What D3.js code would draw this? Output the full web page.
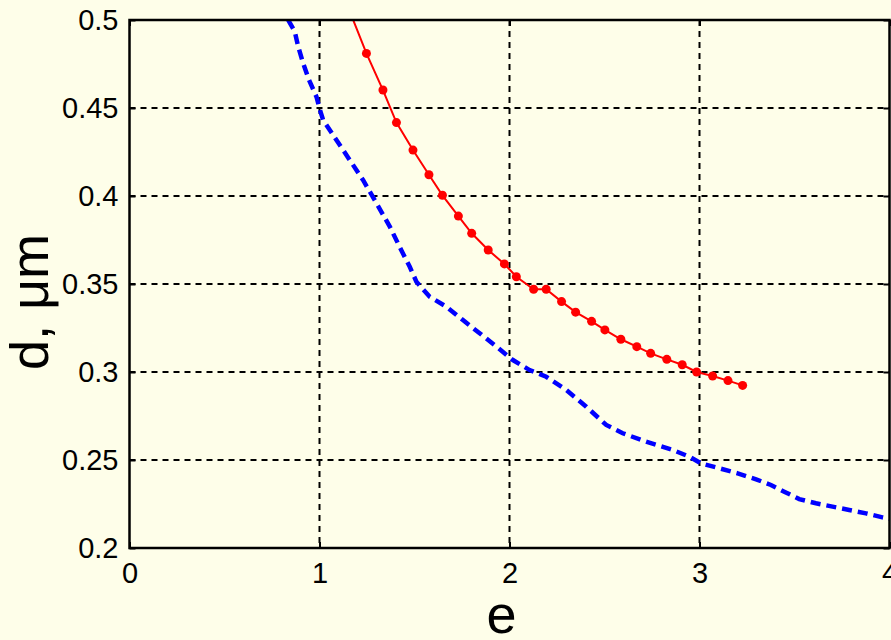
<!DOCTYPE html>
<html>
<head>
<meta charset="utf-8">
<script src="https://d3js.org/d3.v7.min.js"></script>
<style>
  html, body { margin: 0; padding: 0; background: #fefee9; }
  svg { display: block; }
  .tick text { font-family: "Liberation Sans", Arial, sans-serif; font-size: 29px; fill: #000; }
  .label { font-family: "Liberation Sans", Arial, sans-serif; font-size: 54px; fill: #000; }
</style>
</head>
<body>
<div id="chart"></div>
<script>
// blue dashed curve
var blueE = [0.835, 0.870, 0.888, 0.914, 0.945, 0.984, 1.0, 1.019, 1.089, 1.159, 1.229, 1.300,
  1.370, 1.430, 1.475, 1.510, 1.580, 1.668, 1.755, 1.843, 1.931, 2.018, 2.106, 2.193, 2.299,
  2.404, 2.509, 2.596, 2.719, 2.859, 2.947, 3.008, 3.105, 3.201, 3.298, 3.376, 3.446, 3.525,
  3.613, 3.700, 3.788, 3.876, 3.963, 4.0];
var blueD = [0.5, 0.4934, 0.4848, 0.4754, 0.4659, 0.4564, 0.4498, 0.4432, 0.4318, 0.4205, 0.4091, 0.3959,
  0.3826, 0.3693, 0.3598, 0.3513, 0.3428, 0.3371, 0.3295, 0.3220, 0.3144, 0.3068, 0.3011, 0.2973, 0.2898,
  0.2803, 0.2699, 0.2652, 0.2604, 0.2557, 0.2519, 0.2481, 0.2453, 0.2424, 0.2390, 0.2358, 0.2320, 0.2278,
  0.2254, 0.2235, 0.2216, 0.2197, 0.2174, 0.2166];

// red curve with dot markers
var redE = [1.148, 1.247, 1.334, 1.405, 1.492, 1.576, 1.647, 1.731, 1.801, 1.888, 1.973, 2.036,
  2.127, 2.193, 2.274, 2.348, 2.432, 2.502, 2.586, 2.670, 2.743, 2.828, 2.909, 2.985, 3.069, 3.150, 3.227];
var redD = [0.508, 0.481, 0.4602, 0.4417, 0.4261, 0.4121, 0.4004, 0.3886, 0.3788, 0.3693, 0.3614, 0.3541,
  0.347, 0.347, 0.340, 0.334, 0.3288, 0.3239, 0.3186, 0.3144, 0.3106, 0.3072, 0.3041, 0.300, 0.2977, 0.2951, 0.2924];

var xTicks = [0, 1, 2, 3, 4];
var yTicks = [0.2, 0.25, 0.3, 0.35, 0.4, 0.45, 0.5];

var W = 891, H = 640;
var pLeft = 129.5, pRight = 889.5, pTop = 20, pBottom = 548;

var svg = d3.select("#chart").append("svg")
  .attr("width", W).attr("height", H);

var x = d3.scaleLinear().domain([0, 4]).range([pLeft, pRight]);
var y = d3.scaleLinear().domain([0.2, 0.5]).range([pBottom, pTop]);

svg.append("defs").append("clipPath").attr("id", "clip")
  .append("rect")
  .attr("x", pLeft).attr("y", pTop)
  .attr("width", pRight - pLeft).attr("height", pBottom - pTop);

// grid
var grid = svg.append("g");
grid.selectAll(".gx").data(xTicks.slice(1, -1)).enter().append("line")
  .attr("x1", d => x(d)).attr("x2", d => x(d))
  .attr("y1", pTop).attr("y2", pBottom)
  .attr("stroke", "#000").attr("stroke-width", 2).attr("stroke-dasharray", "6,5");
grid.selectAll(".gy").data(yTicks.slice(1, -1)).enter().append("line")
  .attr("y1", d => y(d)).attr("y2", d => y(d))
  .attr("x1", pLeft).attr("x2", pRight)
  .attr("stroke", "#000").attr("stroke-width", 2).attr("stroke-dasharray", "6,5");

// curves
var blue = blueE.map((e, i) => [e, blueD[i]]);
var red = redE.map((e, i) => [e, redD[i]]);
var line = d3.line().x(d => x(d[0])).y(d => y(d[1]));

var plot = svg.append("g").attr("clip-path", "url(#clip)");

plot.append("path").datum(blue)
  .attr("d", line)
  .attr("fill", "none").attr("stroke", "#0000ff")
  .attr("stroke-width", 4.5).attr("stroke-dasharray", "10,6");

plot.append("path").datum(red)
  .attr("d", line)
  .attr("fill", "none").attr("stroke", "#ff0000").attr("stroke-width", 2);

plot.selectAll(".dot").data(red).enter().append("circle")
  .attr("cx", d => x(d[0])).attr("cy", d => y(d[1]))
  .attr("r", 4.5).attr("fill", "#ff0000");

// axes (ticks inside, box all round)
var tk = 6;
svg.append("g").attr("transform", "translate(0," + pBottom + ")")
  .call(d3.axisBottom(x).tickValues(xTicks).tickFormat(d3.format("d")).tickSize(-tk).tickPadding(14))
  .call(g => g.select(".domain").remove());
svg.append("g").attr("transform", "translate(0," + pTop + ")")
  .call(d3.axisTop(x).tickValues(xTicks).tickSize(-tk).tickFormat(""))
  .call(g => g.select(".domain").remove());
svg.append("g").attr("transform", "translate(" + pLeft + ",0)")
  .call(d3.axisLeft(y).tickValues(yTicks).tickFormat(d => String(+d.toFixed(2))).tickSize(-tk).tickPadding(11))
  .call(g => g.select(".domain").remove());
svg.append("g").attr("transform", "translate(" + pRight + ",0)")
  .call(d3.axisRight(y).tickValues(yTicks).tickSize(-tk).tickFormat(""))
  .call(g => g.select(".domain").remove());
svg.selectAll(".tick line").attr("stroke", "#000").attr("stroke-width", 2);

svg.append("rect")
  .attr("x", pLeft).attr("y", pTop)
  .attr("width", pRight - pLeft).attr("height", pBottom - pTop)
  .attr("fill", "none").attr("stroke", "#000").attr("stroke-width", 2.5);

// labels
svg.append("text").attr("class", "label")
  .attr("x", (pLeft + pRight) / 2 - 8).attr("y", 633)
  .attr("text-anchor", "middle").text("e");
svg.append("text").attr("class", "label")
  .attr("transform", "translate(48," + ((pTop + pBottom) / 2 + 18) + ") rotate(-90)")
  .attr("text-anchor", "middle").text("d, μm");
</script>
</body>
</html>
